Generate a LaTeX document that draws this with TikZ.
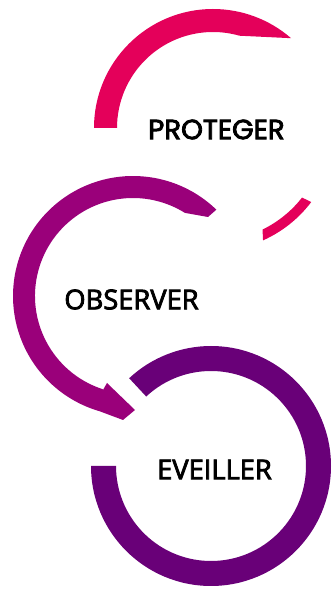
\documentclass[tikz,border=0pt]{standalone}
\usepackage{fontspec}
\newfontfamily\pfont{Poppins}[FakeBold=3]
\newfontfamily\ofont{Open Sans}[FakeBold=3]
\definecolor{cpink}{HTML}{E4005A}
\definecolor{cmag}{HTML}{9A007A}
\definecolor{cviol}{HTML}{690078}
\begin{document}
\begin{tikzpicture}[x=1pt,y=1pt,
  lbl/.style={inner sep=0pt,anchor=center,text=black}]
\useasboundingbox (0,0) rectangle (332,590);
\coordinate (P) at (213,462);
\coordinate (O) at (133,294);
\coordinate (E) at (211,124);
% PROTEGER ring
\fill[cpink] ([shift={(180:119)}]P) arc[start angle=180,end angle=49,radius=119]
  -- ([shift={(74:96)}]P) arc[start angle=74,end angle=180,radius=96] -- cycle;
\fill[cpink] ([shift={(-37:123)}]P) arc[start angle=-37,end angle=-66,radius=123]
  -- ([shift={(-64:113)}]P) arc[start angle=-64,end angle=-38,radius=113] -- cycle;
% OBSERVER arrow
\coordinate (h1) at (123,170);
\coordinate (h2) at (135,180);
\coordinate (h3) at (107,207);
\coordinate (h4) at (103,200);
\coordinate (oc) at (208,373);
\fill[cmag] ([shift={(46:120)}]O) arc[start angle=46,end angle=254,radius=120]
  -- (h1) -- (h2) -- (h3) -- (h4)
  -- ([shift={(252:98)}]O) arc[start angle=252,end angle=58,radius=98]
  -- (oc) -- cycle;
% EVEILLER ring
\fill[cviol] ([shift={(180:120)}]E) arc[start angle=180,end angle=493,radius=120]
  -- ([shift={(133:95)}]E) arc[start angle=493,end angle=180,radius=95] -- cycle;
% labels
\node[lbl,font=\pfont\fontsize{27.7}{27.7}\selectfont] (tp) at (216.5,460.5) {PROTEGER};
\node[lbl,font=\ofont\fontsize{27.3}{27.3}\selectfont] (to) at (131.5,290.5) {OBSERVER};
\node[lbl,font=\ofont\fontsize{27.3}{27.3}\selectfont] (te) at (214.5,120.5) {EVEILLER};
\end{tikzpicture}
\end{document}
